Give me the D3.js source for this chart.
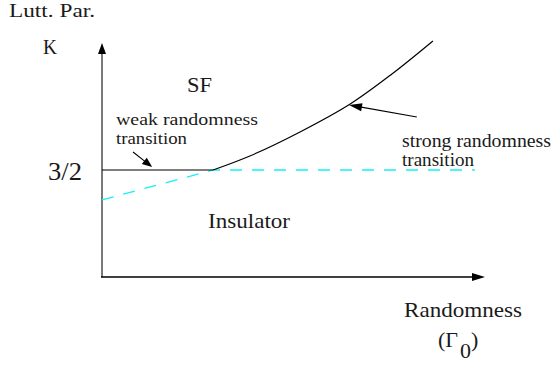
<!DOCTYPE html>
<html>
<head>
<meta charset="utf-8">
<script src="https://cdn.jsdelivr.net/npm/d3@7"></script>
<style>
  html, body { margin: 0; padding: 0; background: #fff; }
  svg { display: block; }
  text { font-family: "Liberation Serif", "DejaVu Serif", serif; fill: #1a1a1a; }
</style>
</head>
<body>
<svg id="chart" width="552" height="366"></svg>
<script>
// Phase diagram: Luttinger parameter K versus randomness Γ0
const gammaMax = 1.0;   // end of the randomness axis
const kMax = 3.28;      // top of the K axis
const kCritical = 1.5;  // K = 3/2

// strong-randomness transition line (SF / insulator boundary above 3/2)
const strongGamma = [0.290, 0.386, 0.517, 0.648, 0.757, 0.864];
const strongK     = [1.500, 1.696, 2.033, 2.425, 2.846, 3.309];

// weak-randomness transition at K = 3/2
const weakGamma = [0.0, 0.290];
const weakK     = [1.5, 1.5];

// dashed cyan line: rises from the K axis, then continues flat at 3/2
const dashGamma = [0.0, 0.290, 0.974];
const dashK     = [1.08, 1.5, 1.5];

// annotation arrows [tail, tip] in data units
const weakArrow   = [[0.081, 1.752], [0.131, 1.542]];
const strongArrow = [[0.822, 2.243], [0.645, 2.411]];

const tickLabels = ["3/2"];

const svg = d3.select("#chart");
const x = d3.scaleLinear().domain([0, gammaMax]).range([102, 485]);
const y = d3.scaleLinear().domain([0, kMax]).range([277, 43]);

const line = d3.line().x(d => x(d[0])).y(d => y(d[1]));
const zip = (a, b) => a.map((v, i) => [v, b[i]]);

// filled arrowhead with tip at (x2,y2) pointing away from (x1,y1)
function arrowHead(x1, y1, x2, y2, len, half, color) {
  const a = Math.atan2(y2 - y1, x2 - x1);
  const bx = x2 - len * Math.cos(a), by = y2 - len * Math.sin(a);
  const px = -Math.sin(a) * half, py = Math.cos(a) * half;
  svg.append("path")
    .attr("d", `M${x2},${y2}L${bx + px},${by + py}L${bx - px},${by - py}Z`)
    .attr("fill", color);
}

// axes
svg.append("line")
  .attr("x1", x(0)).attr("y1", y(0)).attr("x2", x(0)).attr("y2", y(kMax) + 8)
  .attr("stroke", "#7a7a7a").attr("stroke-width", 2);
arrowHead(x(0), y(0), x(0), y(kMax), 11, 4, "#000");

svg.append("line")
  .attr("x1", x(0) - 1).attr("y1", y(0)).attr("x2", x(gammaMax) - 8).attr("y2", y(0))
  .attr("stroke", "#000").attr("stroke-width", 1.3);
arrowHead(x(0), y(0), x(gammaMax), y(0), 13, 4, "#000");

// dashed cyan line
svg.append("path")
  .attr("d", line(zip(dashGamma, dashK)))
  .attr("fill", "none").attr("stroke", "#14f0fa").attr("stroke-width", 1.3)
  .attr("stroke-dasharray", "12,10");

// transition lines
svg.append("path")
  .attr("d", line(zip(weakGamma, weakK)))
  .attr("fill", "none").attr("stroke", "#000").attr("stroke-width", 1.2);

svg.append("path")
  .attr("d", d3.line().curve(d3.curveCatmullRom).x(d => x(d[0])).y(d => y(d[1]))(zip(strongGamma, strongK)))
  .attr("fill", "none").attr("stroke", "#000").attr("stroke-width", 1.2);

// annotation arrows
[[weakArrow, 10, 4], [strongArrow, 13, 4]].forEach(([arr, len, half]) => {
  const [t, h] = arr;
  const x1 = x(t[0]), y1 = y(t[1]), x2 = x(h[0]), y2 = y(h[1]);
  const a = Math.atan2(y2 - y1, x2 - x1);
  svg.append("line")
    .attr("x1", x1).attr("y1", y1)
    .attr("x2", x2 - (len - 2) * Math.cos(a)).attr("y2", y2 - (len - 2) * Math.sin(a))
    .attr("stroke", "#000").attr("stroke-width", 1.1);
  arrowHead(x1, y1, x2, y2, len, half, "#000");
});

// text labels
function label(txt, px, py, size, len) {
  const t = svg.append("text").attr("x", px).attr("y", py)
    .attr("font-size", size).text(txt);
  if (len) t.attr("textLength", len).attr("lengthAdjust", "spacingAndGlyphs");
  return t;
}

label("Lutt. Par.", 9, 17, 18, 86);
label("K", 43, 54, 22, 14);
label(tickLabels[0], 48, y(kCritical) + 10, 26, 34);
label("SF", 187, 92, 22, 25);
label("weak randomness", 116, 125, 17, 142);
label("transition", 116, 144, 17, 71);
label("strong randomness", 402, 147, 19, 149);
label("transition", 402, 166, 19, 72);
label("Insulator", 208, 228, 22, 82);
label("Randomness", 404, 317, 22, 118);

// (Γ0) with lowered subscript
const g = svg.append("text").attr("x", 438).attr("y", 347).attr("font-size", 22);
g.append("tspan").text("(Γ");
g.append("tspan").attr("dy", 11).attr("dx", 2).text("0");
g.append("tspan").attr("dy", -11).text(")");
</script>
</body>
</html>
